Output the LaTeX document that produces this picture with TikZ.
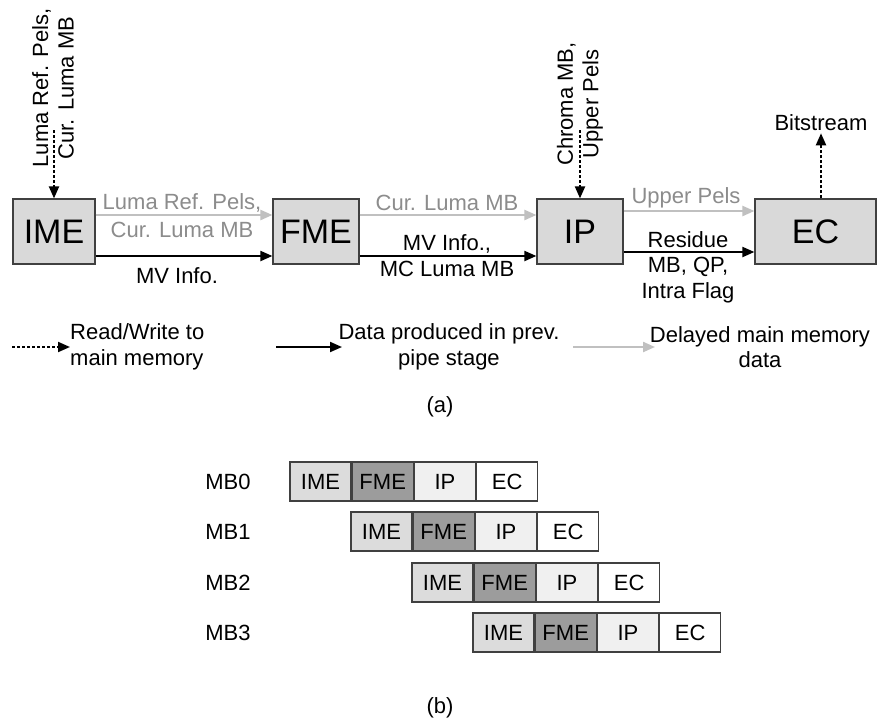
\documentclass[tikz,border=0pt]{standalone}
\usepackage{fontspec}
\setmainfont{Liberation Sans}
\usetikzlibrary{arrows.meta}
\definecolor{boxfill}{HTML}{D9D9D9}
\definecolor{boxline}{HTML}{404040}
\definecolor{lightarrow}{HTML}{C0C0C0}
\definecolor{lighttext}{HTML}{8C8C8C}
\definecolor{imefill}{HTML}{DCDCDC}
\definecolor{fmefill}{HTML}{9C9C9C}
\definecolor{ipfill}{HTML}{F0F0F0}
\tikzset{
  stagebox/.style={draw=boxline, line width=1.2pt, fill=boxfill, minimum height=65pt, inner sep=0pt, font=\fontsize{34}{38}\selectfont},
  cell/.style={draw=boxline, line width=1.2pt, minimum width=61pt, minimum height=39pt, inner sep=0pt},
  blackarr/.style={line width=2pt, -{Triangle[length=12pt,width=10pt]}},
  grayarr/.style={draw=lightarrow, line width=2.2pt, -{Triangle[length=12pt,width=10pt]}},
  memarr/.style={line width=2pt, dash pattern=on 3pt off 2pt, -{Triangle[length=12pt,width=10pt]}},
  lbl/.style={inner sep=0pt, align=center},
  graylbl/.style={inner sep=0pt, align=center, text=lighttext},
}
\begin{document}
\begin{tikzpicture}[x=1pt,y=-1pt, font=\fontsize{22}{25.5}\selectfont]
\useasboundingbox[fill=white] (0,0) rectangle (877,723);

% stage boxes
\node[stagebox, minimum width=82pt] (ime) at (54,231.5) {IME};
\node[stagebox, minimum width=86pt] (fme) at (316,231.5) {FME};
\node[stagebox, minimum width=86pt] (ip) at (580,231.5) {IP};
\node[stagebox, minimum width=121pt] (ec) at (815.5,231.5) {EC};

% IME -> FME
\draw[grayarr] ([yshift=16.5pt]ime.east) -- ([yshift=16.5pt]fme.west);
\draw[blackarr] ([yshift=-24.5pt]ime.east) -- ([yshift=-24.5pt]fme.west);
\node[graylbl] (l1) at (182,203) {Luma Ref. Pels,};
\node[graylbl] (l2) at (182,230) {Cur. Luma MB};
\node[lbl] (l3) at (177,276) {MV Info.};

% FME -> IP
\draw[grayarr] ([yshift=16.5pt]fme.east) -- ([yshift=16.5pt]ip.west);
\draw[blackarr] ([yshift=-24.5pt]fme.east) -- ([yshift=-24.5pt]ip.west);
\node[graylbl] (l4) at (447,203) {Cur. Luma MB};
\node[lbl] (l5) at (447,255.5) {MV Info.,\\MC Luma MB};

% IP -> EC
\draw[grayarr] ([yshift=20.5pt]ip.east) -- ([yshift=20.5pt]ec.west);
\draw[blackarr] ([yshift=-20.5pt]ip.east) -- ([yshift=-20.5pt]ec.west);
\node[graylbl] (l6) at (686,198) {Upper Pels};
\node[lbl] (l7) at (688,267) {Residue\\MB, QP,\\Intra Flag};

% memory accesses
\node[lbl, rotate=90] (m1) at (53,88) {Luma Ref. Pels,\\Cur. Luma MB};
\coordinate (m1s) at (54,130);
\draw[memarr] (m1s) -- (ime.north);
\node[lbl, rotate=90] (m2) at (580,104) {Chroma MB,\\Upper Pels};
\coordinate (m2s) at (580,130);
\draw[memarr] (m2s) -- (ip.north);
\node[lbl] (bs) at (821,123) {Bitstream};
\draw[memarr] ([xshift=5.5pt]ec.north) -- ([yshift=-2pt]bs.south);

% legend
\coordinate (g1a) at (12,347); \coordinate (g1b) at (70,347);
\draw[memarr] (g1a) -- (g1b);
\node[lbl, align=left, anchor=west] (t1) at (70,347) {Read/Write to\\main memory};
\coordinate (g2a) at (276,347); \coordinate (g2b) at (342,347);
\draw[blackarr] (g2a) -- (g2b);
\node[lbl] (t2) at (449,347) {Data produced in prev.\\pipe stage};
\coordinate (g3a) at (573,347); \coordinate (g3b) at (655,347);
\draw[grayarr] (g3a) -- (g3b);
\node[lbl] (t3) at (760,347) {Delayed main memory\\data};

\node[lbl] (capa) at (440,407) {(a)};

% pipeline
\foreach \r/\yy in {0/481.5,1/531.5,2/582.5,3/632.5}{
  \node[lbl] (mb\r) at (228,\yy) {MB\r};
  \pgfmathsetmacro{\xx}{320.5+61*\r}
  \node[cell, fill=imefill] (ime\r) at (\xx,\yy) {IME};
  \node[cell, fill=fmefill, anchor=west] (fme\r) at (ime\r.east) {FME};
  \node[cell, fill=ipfill, anchor=west] (ip\r) at (fme\r.east) {IP};
  \node[cell, fill=white, anchor=west] (ec\r) at (ip\r.east) {EC};
}

\node[lbl] (capb) at (440,708) {(b)};
\end{tikzpicture}
\end{document}
